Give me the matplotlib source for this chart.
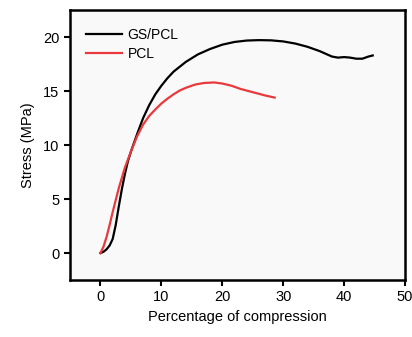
import numpy as np
import matplotlib
matplotlib.use("Agg")
import matplotlib.pyplot as plt

plt.rcParams['font.family'] = ['Liberation Sans', 'DejaVu Sans']

# GS/PCL curve
gs_x = [0, 0.5, 1, 1.5, 2, 2.5, 3, 3.5, 4, 4.5, 5, 5.5, 6, 7, 8, 9, 10, 11, 12,
        14, 16, 18, 20, 22, 24, 26, 28, 30, 32, 34, 36, 37, 38, 39, 40, 41, 42,
        43, 44, 44.7]
gs_y = [0, 0.12, 0.35, 0.7, 1.3, 2.6, 4.3, 5.9, 7.3, 8.5, 9.4, 10.2, 11.0, 12.5,
        13.7, 14.7, 15.5, 16.2, 16.8, 17.7, 18.4, 18.9, 19.3, 19.55, 19.68, 19.72,
        19.7, 19.6, 19.4, 19.1, 18.7, 18.45, 18.2, 18.1, 18.15, 18.1, 18.0, 18.0,
        18.2, 18.3]

# PCL curve
pcl_x = [0, 0.5, 1, 1.5, 2, 3, 4, 5, 6, 7, 8, 9, 10, 11, 12, 13, 14, 15.5, 17,
         18.7, 20, 21.5, 23, 25, 27, 28.6]
pcl_y = [0, 0.6, 1.5, 2.6, 3.8, 6.0, 7.9, 9.4, 10.8, 11.9, 12.7, 13.3, 13.85, 14.3,
         14.7, 15.05, 15.3, 15.6, 15.75, 15.8, 15.7, 15.5, 15.2, 14.9, 14.6, 14.4]

fig = plt.figure(figsize=(4.12, 3.37), dpi=100)
ax = fig.add_axes([0.170, 0.169, 0.813, 0.801])
ax.set_facecolor('#f9f9f9')

ax.plot(gs_x, gs_y, color='black', lw=1.6, label='GS/PCL')
ax.plot(pcl_x, pcl_y, color='#e8393d', lw=1.6, label='PCL')

ax.set_xlim(-5, 50)
ax.set_ylim(-2.5, 22.5)
ax.set_xticks([0, 10, 20, 30, 40, 50])
ax.set_yticks([0, 5, 10, 15, 20])
for s in ax.spines.values():
    s.set_linewidth(1.8)
ax.tick_params(width=1.5, length=4, labelsize=10.5)

ax.set_xlabel('Percentage of compression', fontsize=10.5, labelpad=4)
ax.set_ylabel('Stress (MPa)', fontsize=10.5, labelpad=6)

ax.legend(loc='upper left', frameon=False, fontsize=10, handlelength=2.6,
          handletextpad=0.4, labelspacing=0.35, bbox_to_anchor=(0.01, 0.98))

fig.savefig('out.png', dpi=100)
